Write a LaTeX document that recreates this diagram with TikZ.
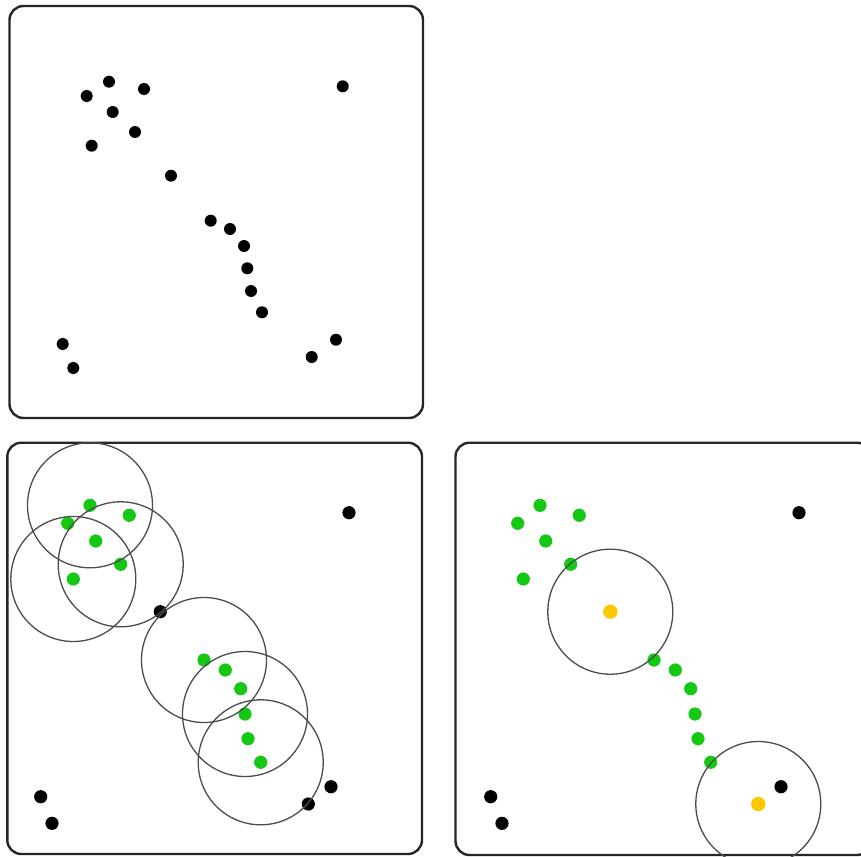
\documentclass[tikz,border=0pt]{standalone}
\definecolor{kerngruen}{RGB}{20,200,20}
\definecolor{randgelb}{RGB}{255,200,0}
\tikzset{
  rahmen/.style={draw=black!85, line width=2.4pt, rounded corners=14pt},
  umgebung/.style={draw=black!70, line width=1.3pt}
}
\begin{document}
\begin{tikzpicture}[x=1pt, y=-1pt]
\useasboundingbox (0,0) rectangle (861,856);
\clip (0,0) rectangle (861,856);
\def\pr{6}      % Punktradius oben
\def\pu{6.6}    % Punktradius unten
\def\eps{62.5}  % Radius der Umgebung
% Punkte oben (alle schwarz)
\def\obenpkt{86.7/96, 109/81.7, 144/89, 112.7/112, 135/132, 91.7/145.7, 171/175.7,
  210.7/220.7, 230/229, 244/246, 247.3/268.3, 251/291, 262/312.3,
  342.7/86.3, 62.7/344, 73.3/368, 336/339.7, 311.7/357}
% Punkte unten (links; rechts um 450 verschoben)
\def\kernpkt{90/505.3, 129.3/515.3, 67.7/523.3, 95.7/541, 120.7/564.3, 73.3/579,
  204/660, 225.3/670, 240.7/688.7, 245/714, 248/738.7, 260.7/762.3}
\def\rauschpkt{349/512.7, 40.7/796.7, 52/823.3, 331/786.7}
\def\randpkt{160.3/611.7, 308.3/804}
% Mittelpunkte der Kreise links
\def\umgpkt{90/505.3, 120.7/564.3, 73.3/579, 204/660, 245/714, 260.7/762.3}
% Rahmen
\draw[rahmen] (9.5,6) rectangle (423,418);
\draw[rahmen] (7.3,442.7) rectangle (422,854);
\draw[rahmen] (455.5,442.7) rectangle (871,855);
% oben: Rohdaten
\foreach \x/\y in \obenpkt \fill (\x,\y) circle (\pr);
% unten links: Kernpunkte mit Umgebungen
\foreach \x/\y in \kernpkt \fill[kerngruen] (\x,\y) circle (\pu);
\foreach \x/\y in \rauschpkt \fill (\x,\y) circle (\pu);
\foreach \x/\y in \randpkt \fill (\x,\y) circle (\pu);
\foreach \x/\y in \umgpkt \draw[umgebung] (\x,\y) circle (\eps);
% unten rechts: Randpunkte gelb
\begin{scope}[shift={(450,0)}]
\foreach \x/\y in \kernpkt \fill[kerngruen] (\x,\y) circle (\pu);
\foreach \x/\y in \rauschpkt \fill (\x,\y) circle (\pu);
\foreach \x/\y in \randpkt \fill[randgelb] (\x,\y) circle (\pu+0.6);
\foreach \x/\y in \randpkt \draw[umgebung] (\x,\y) circle (\eps);
\end{scope}
\end{tikzpicture}
\end{document}
